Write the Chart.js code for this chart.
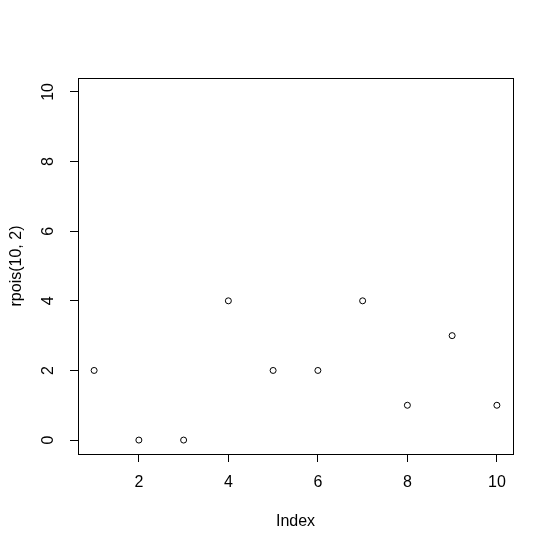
<!DOCTYPE html>
<html>
<head>
<meta charset="utf-8">
<script src="https://cdn.jsdelivr.net/npm/chart.js@4/dist/chart.umd.min.js"></script>
<style>
html,body{margin:0;padding:0;background:#fff;}
#wrap{width:553px;height:552px;}
</style>
</head>
<body>
<div id="wrap"><canvas id="c" width="553" height="552"></canvas></div>
<script>
const indexValues = [1, 2, 3, 4, 5, 6, 7, 8, 9, 10];
const rpoisValues = [2, 0, 0, 4, 2, 2, 4, 1, 3, 1];
const xTickValues = [2, 4, 6, 8, 10];
const yTickValues = [0, 2, 4, 6, 8, 10];
const xTitle = 'Index';
const yTitle = 'rpois(10, 2)';

const FONT = '"Liberation Sans", Arial, sans-serif';
const FSIZE = 16;

const points = indexValues.map((x, i) => ({x: x, y: rpoisValues[i]}));

const framePlugin = {
  id: 'frame',
  beforeDraw(chart) {
    const ctx = chart.ctx;
    ctx.save();
    ctx.fillStyle = '#fff';
    ctx.fillRect(0, 0, chart.width, chart.height);
    ctx.restore();
  },
  afterDraw(chart) {
    const ctx = chart.ctx;
    const a = chart.chartArea;
    ctx.save();
    ctx.strokeStyle = '#000';
    ctx.lineWidth = 1;
    ctx.strokeRect(Math.round(a.left) + 0.5, Math.round(a.top) + 0.5,
                   Math.round(a.right - a.left), Math.round(a.bottom - a.top));
    // rotated y tick labels (R las=0 style)
    const ys = chart.scales.y;
    ctx.fillStyle = '#000';
    ctx.font = FSIZE + 'px ' + FONT;
    ctx.textAlign = 'center';
    ctx.textBaseline = 'middle';
    ys.ticks.forEach(t => {
      const py = ys.getPixelForValue(t.value);
      ctx.save();
      ctx.translate(49, py);
      ctx.rotate(-Math.PI / 2);
      ctx.fillText(String(t.value), 0, 0);
      ctx.restore();
    });
    ctx.restore();
  }
};

new Chart(document.getElementById('c'), {
  type: 'scatter',
  data: {
    datasets: [{
      data: points,
      pointStyle: 'circle',
      pointRadius: 3,
      pointHoverRadius: 3,
      pointBorderWidth: 1,
      borderColor: '#000',
      backgroundColor: 'rgba(0,0,0,0)',
      showLine: false
    }]
  },
  options: {
    responsive: false,
    animation: false,
    devicePixelRatio: 1,
    layout: {padding: {top: 78, right: 40, left: 0, bottom: 0}},
    plugins: {legend: {display: false}, tooltip: {enabled: false}},
    scales: {
      x: {
        type: 'linear',
        min: 0.64, max: 10.36,
        afterBuildTicks(scale) { scale.ticks = xTickValues.map(v => ({value: v})); },
        afterFit(scale) { scale.height = 98; },
        grid: {display: true, drawOnChartArea: false, drawTicks: true, tickLength: 8, color: '#000', lineWidth: 1},
        border: {display: true, color: '#000', width: 1},
        ticks: {color: '#000', font: {family: FONT, size: FSIZE}, padding: 11, maxRotation: 0, minRotation: 0,
                callback: v => String(v)},
        title: {display: true, text: xTitle, color: '#000', font: {family: FONT, size: FSIZE}, padding: {top: 0, bottom: 21}}
      },
      y: {
        type: 'linear',
        min: -0.4, max: 10.4,
        afterBuildTicks(scale) { scale.ticks = yTickValues.map(v => ({value: v})); },
        afterFit(scale) { scale.width = 78; },
        grid: {display: true, drawOnChartArea: false, drawTicks: true, tickLength: 8, color: '#000', lineWidth: 1},
        border: {display: true, color: '#000', width: 1},
        ticks: {display: false},
        title: {display: true, text: yTitle, color: '#000', font: {family: FONT, size: FSIZE}, padding: {top: 7, bottom: 0}}
      }
    }
  },
  plugins: [framePlugin]
});
</script>
</body>
</html>
